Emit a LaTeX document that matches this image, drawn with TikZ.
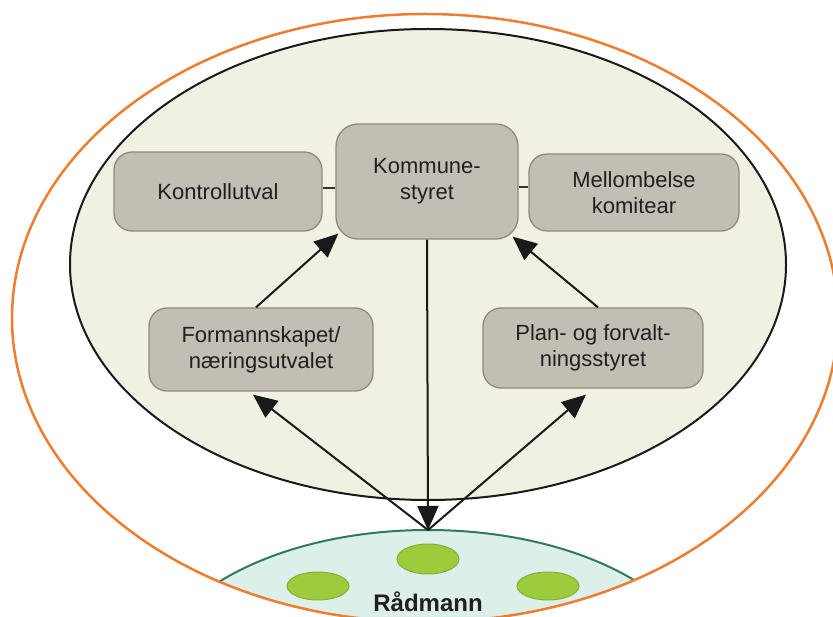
\documentclass[tikz,border=0pt]{standalone}
\usepackage{fontspec}
\setmainfont{Liberation Sans}
\usetikzlibrary{arrows.meta,calc}
\definecolor{orangeline}{HTML}{EE7D2F}
\definecolor{ellfill}{HTML}{F0F1E3}
\definecolor{boxfill}{HTML}{C3BEB4}
\definecolor{boxline}{HTML}{8E8A82}
\definecolor{radfill}{HTML}{DDEFE9}
\definecolor{radline}{HTML}{2F7A5A}
\definecolor{dotfill}{HTML}{9CCB3B}
\definecolor{dotline}{HTML}{84AF3A}
\definecolor{txt}{HTML}{231F20}
\begin{document}
\begin{tikzpicture}[x=1pt,y=-1pt,
  orgbox/.style={draw=boxline, line width=1.3pt, fill=boxfill, rounded corners=18pt,
    inner sep=0pt, align=center, text=txt,
    font=\fontsize{22}{26}\selectfont},
  flow/.style={line width=2pt, draw=black!90, -{Triangle[length=24pt,width=21pt]}},
  link/.style={line width=2pt, draw=black!80},
  dot/.style={draw=dotline, line width=1pt, fill=dotfill}]
\useasboundingbox (0,0) rectangle (833,617);
% Radmann area clipped to orange ellipse
\begin{scope}
  \clip (425,318) ellipse [x radius=413pt, y radius=304pt];
  \filldraw[fill=radfill, draw=radline, line width=2pt] (428,685) ellipse [x radius=280pt, y radius=155pt];
\end{scope}
\draw[orangeline, line width=2.5pt] (425,318) ellipse [x radius=413pt, y radius=304pt];
\filldraw[fill=ellfill, draw=black!90, line width=2pt] (428,264.5) ellipse [x radius=358pt, y radius=235.5pt];
% boxes
\node[orgbox, minimum width=208pt, minimum height=79pt] (kontroll) at (218,191.5) {Kontrollutval};
\node[orgbox, minimum width=182pt, minimum height=115pt, rounded corners=22pt] (kommune) at (427,181.5) {Kommune-\\styret};
\node[orgbox, minimum width=210pt, minimum height=77pt] (mellom) at (634,192.5) {Mellombelse\\komitear};
\node[orgbox, minimum width=224pt, minimum height=83pt] (form) at (261,349.5) {Formannskapet/\\næringsutvalet};
\node[orgbox, minimum width=220pt, minimum height=80pt] (plan) at (593,348) {Plan- og forvalt-\\ningsstyret};
% connectors
\draw[link] (kontroll.east |- 0,188) -- (kommune.west |- 0,188);
\draw[link] (kommune.east |- 0,187) -- (mellom.west |- 0,187);
\coordinate (R) at (428,530);
\draw[flow] ($(form.north)+(-5,0)$) -- ($(kommune.south west)+(3,-6)$);
\draw[flow] ($(plan.north)+(5,0)$) -- ($(kommune.south east)+(-6,-3)$);
\draw[flow] (kommune.south) -- (R);
\draw[flow] (R) -- ($(form.south)+(-8,3)$);
\draw[flow] (R) -- ($(plan.south)+(-7,6)$);
% Radmann dots and label
\filldraw[dot] (428,559) ellipse [x radius=31pt, y radius=15pt];
\filldraw[dot] (318,586) ellipse [x radius=31pt, y radius=14pt];
\filldraw[dot] (548,586) ellipse [x radius=31pt, y radius=14pt];
\node[font=\fontsize{24}{28}\selectfont\bfseries, text=txt, inner sep=0pt] (rad) at (428,602) {Rådmann};
\end{tikzpicture}
\end{document}
